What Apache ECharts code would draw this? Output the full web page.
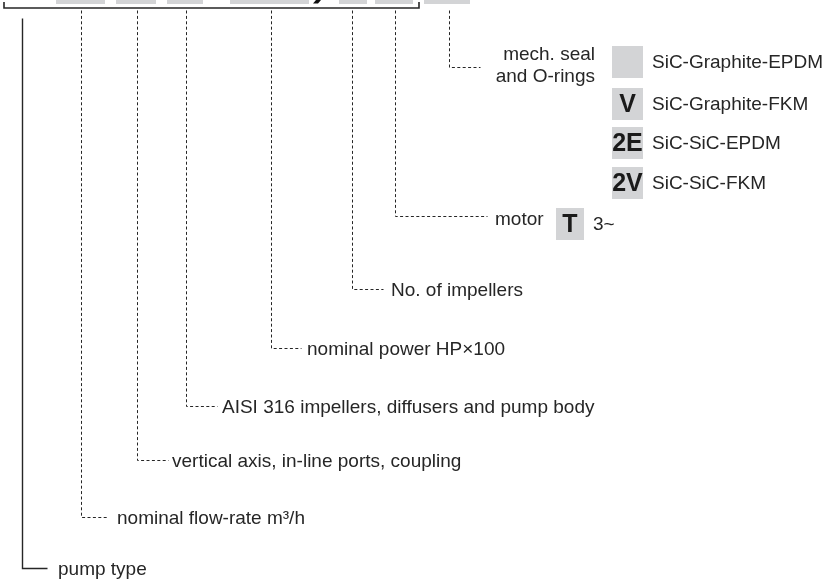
<!DOCTYPE html>
<html>
<head>
<meta charset="utf-8">
<script src="https://cdn.jsdelivr.net/npm/echarts@6.0.0/dist/echarts.min.js"></script>
<style>
  html, body { margin: 0; padding: 0; background: #fff; }
  #main { width: 828px; height: 583px; }
</style>
</head>
<body>
<div id="main"></div>
<script>
// code segments cut off at the top edge, [from, to] along the code line
const codeSegments = [[56, 105], [116, 156], [167, 203], [230, 309], [339, 367], [375, 413], [424, 470]]
const codeSlash = [317]
const bracket = [4, 419]

// leaders: where each one drops from the code, the level where it turns, where the run stops
const leaderX = [22, 81, 137, 186, 271, 352, 395, 449]
const leaderY = [568, 517, 460, 406, 348, 289, 216, 67]
const leaderEnd = [47, 107, 168, 217, 301, 383, 487, 480]
const labelX = [58, 117, 172, 222, 307, 391, 495, 595]
const leaderLabels = [
  "pump type",
  "nominal flow-rate m³/h",
  "vertical axis, in-line ports, coupling",
  "AISI 316 impellers, diffusers and pump body",
  "nominal power HP×100",
  "No. of impellers",
  "motor",
  "mech. seal\nand O-rings"
]

// option codes
const sealCodes = ["", "V", "2E", "2V"]
const sealNames = ["SiC-Graphite-EPDM", "SiC-Graphite-FKM", "SiC-SiC-EPDM", "SiC-SiC-FKM"]
const sealRows = [62, 104, 143, 183]
const motorCodes = ["T"]
const motorNames = ["3~"]
const motorRows = [224]

const ink = "#262626"
const boxGray = "#d3d4d6"
const font = '"Liberation Sans", Arial, Helvetica, sans-serif'

// keep 1px strokes on the pixel grid
const crisp = p => [Math.round(p[0]) + 0.5, Math.round(p[1]) + 0.5]

let chart = echarts.init(document.getElementById('main'))

const codeBoxes = (params, api) => {
  const a = api.coord([api.value(0), -20])
  const b = api.coord([api.value(1), 4])
  return { type: 'rect', shape: { x: a[0], y: a[1], width: b[0] - a[0], height: b[1] - a[1] }, style: { fill: boxGray } }
}

const slashMark = (params, api) => {
  const p = api.coord([api.value(0), 0])
  return {
    type: 'polygon',
    shape: { points: [[p[0] - 1, p[1]], [p[0] + 4, p[1]], [p[0] + 1, p[1] + 3.5], [p[0] - 4, p[1] + 3.5]] },
    style: { fill: '#111' }
  }
}

const bracketLine = (params, api) => {
  const l = api.coord([api.value(0), 2])
  const lb = api.coord([api.value(0), 8])
  const rb = api.coord([api.value(1), 8])
  const r = api.coord([api.value(1), 2])
  return { type: 'polyline', shape: { points: [l, lb, rb, r] }, style: { stroke: ink, lineWidth: 1.6, fill: null } }
}

const leaderItem = (params, api) => {
  const i = params.dataIndex
  const solid = i === 0
  const top = crisp(api.coord([api.value(0), solid ? 18 : 10]))
  const corner = crisp(api.coord([api.value(0), api.value(1)]))
  const end = crisp(api.coord([api.value(2), api.value(1)]))
  const shift = i === 7 ? -1 : (i === 6 ? 4 : 2)
  const txt = api.coord([api.value(3), api.value(1) + shift])
  return {
    type: 'group',
    children: [
      {
        type: 'polyline',
        shape: { points: [top, corner, end] },
        style: { stroke: ink, lineWidth: solid ? 1.4 : 1, lineDash: solid ? null : [3, 2.4], fill: null }
      },
      {
        type: 'text',
        style: {
          text: leaderLabels[i], x: txt[0], y: txt[1],
          fill: ink, fontSize: 19, fontFamily: font, lineHeight: 22,
          align: i === 7 ? 'right' : 'left', verticalAlign: 'middle'
        }
      }
    ]
  }
}

const optionRow = (codes, names, x0, x1) => (params, api) => {
  const i = params.dataIndex
  const c = api.value(0)
  const a = api.coord([x0, c - 16])
  const b = api.coord([x1, c + 16])
  const mid = api.coord([(x0 + x1) / 2, c])
  const nameAt = api.coord([x1 + 9, c])
  return {
    type: 'group',
    children: [
      { type: 'rect', shape: { x: a[0], y: a[1], width: b[0] - a[0], height: b[1] - a[1] }, style: { fill: boxGray } },
      { type: 'text', style: { text: codes[i], x: mid[0], y: mid[1] + 1, fill: '#1a1a1a', fontSize: 25, fontWeight: 'bold', fontFamily: font, align: 'center', verticalAlign: 'middle' } },
      { type: 'text', style: { text: names[i], x: nameAt[0], y: nameAt[1] + 1, fill: ink, fontSize: 19, fontFamily: font, align: 'left', verticalAlign: 'middle' } }
    ]
  }
}

let option = {
  animation: false,
  grid: { left: 0, right: 0, top: 0, bottom: 0 },
  xAxis: { type: 'value', min: 0, max: 828, show: false },
  yAxis: { type: 'value', min: 0, max: 583, inverse: true, show: false },
  series: [
    { type: 'custom', renderItem: codeBoxes, data: codeSegments, clip: true },
    { type: 'custom', renderItem: slashMark, data: codeSlash.map(v => [v]), clip: true },
    { type: 'custom', renderItem: bracketLine, data: [bracket] },
    {
      type: 'custom', renderItem: leaderItem,
      data: leaderX.map((x, i) => [x, leaderY[i], leaderEnd[i], labelX[i]])
    },
    { type: 'custom', renderItem: optionRow(sealCodes, sealNames, 612, 643), data: sealRows.map(v => [v]) },
    { type: 'custom', renderItem: optionRow(motorCodes, motorNames, 556, 584), data: motorRows.map(v => [v]) }
  ]
}

chart.setOption(option)
</script>
</body>
</html>
